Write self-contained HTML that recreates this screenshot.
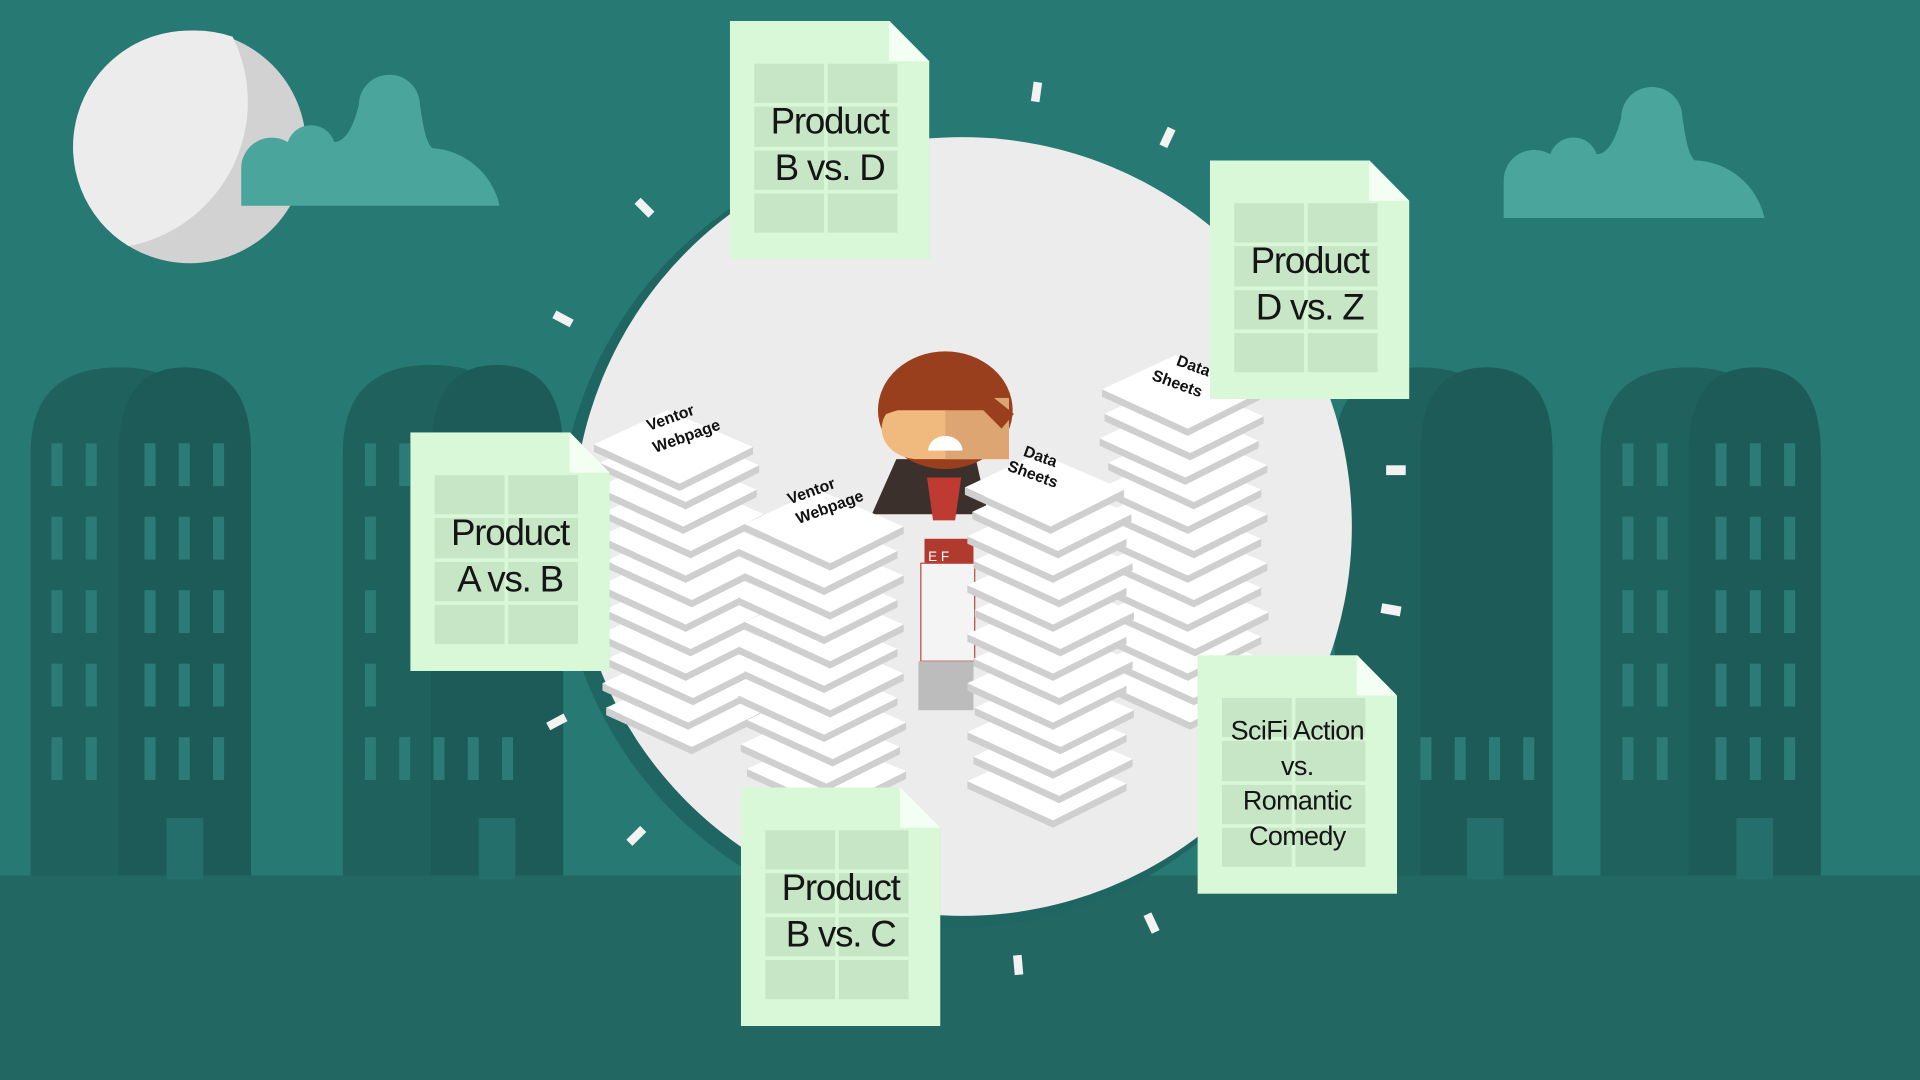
<!DOCTYPE html>
<html><head><meta charset="utf-8"><style>
html,body{margin:0;padding:0;width:1920px;height:1080px;overflow:hidden;background:#267a73}
#w{position:absolute;left:0;top:0;width:1568px;height:882px;transform:scale(1.22449);transform-origin:0 0;font-family:"Liberation Sans",sans-serif}
.doc{position:absolute;width:163px;height:195px;background:#d9f8d8;box-shadow:8px 6px 0 rgba(0,0,0,0.12);clip-path:polygon(0 0,80% 0,100% 17%,100% 100%,0 100%)}
.doc:after{content:"";position:absolute;right:0;top:0;width:33px;height:33px;background:linear-gradient(225deg,transparent 50%,#f3fff3 50%)}
.g{position:absolute;left:20px;top:35px;width:117px;height:138px;display:grid;grid-template-columns:1fr 1fr;grid-template-rows:repeat(4,1fr);gap:3px}
.g i{background:#c6e6c6}
.t{position:absolute;left:0;right:0;text-align:center;color:#151515;font-size:30px;line-height:38px;top:64px;letter-spacing:-1px}
.t.s{font-size:22px;line-height:28.5px;top:48px;letter-spacing:-0.5px}
</style></head><body><div id="w">
<svg width="1568" height="882" style="position:absolute;left:0;top:0">
<rect x="0" y="715" width="1568" height="167" fill="#236763"/>
<g fill="#1f615d">
<path d="M25 715V370Q25 300 97 300Q169 300 169 370V715z"/>
<path d="M280 715V370Q280 298 352 298Q424 298 424 370V715z"/>
<path d="M1090 715V370Q1090 300 1160 300Q1230 300 1230 370V715z"/>
<path d="M1307 715V370Q1307 300 1379 300Q1451 300 1451 370V715z"/>
</g>
<g fill="#1d5b58">
<path d="M97 715V370Q97 300 151 300Q205 300 205 370V715z"/>
<path d="M352 715V370Q352 298 406 298Q460 298 460 370V715z"/>
<path d="M1160 715V370Q1160 300 1214 300Q1268 300 1268 370V715z"/>
<path d="M1379 715V370Q1379 300 1433 300Q1487 300 1487 370V715z"/>
</g>
<g fill="#246f6b">
<rect x="136" y="668" width="30" height="50"/><rect x="391" y="668" width="30" height="50"/><rect x="1198" y="668" width="30" height="50"/><rect x="1418" y="668" width="30" height="50"/>
</g>
<circle cx="155" cy="120" r="95" fill="#d2d2d2"/>
<path d="M155 25a95 95 0 0 0 -50 176a120 120 0 0 0 85 -171a95 95 0 0 0 -35 -5z" fill="#ececec"/>
<g fill="#4aa59d">
<path d="M197 168v-30a25 25 0 0 1 38-22a20 20 0 0 1 38 0c8 0 15 -10 20 -30a25 25 0 0 1 50 0c3 20 5 30 10 35a60 60 0 0 1 55 47z"/>
<path d="M1228 178v-30a25 25 0 0 1 38-22a20 20 0 0 1 38 0c8 0 15 -10 20 -30a25 25 0 0 1 50 0c3 20 5 30 10 35a60 60 0 0 1 57 47z"/>
</g>
<circle cx="778" cy="436" r="322" fill="#1f6662"/>
<circle cx="786" cy="430" r="318" fill="#ececec"/>
<g fill="#f2f2f2">
<rect x="843" y="67" width="7" height="16" transform="rotate(8 846 75)"/>
<rect x="950" y="104" width="7" height="16" transform="rotate(25 953 112)"/>
<rect x="523" y="162" width="7" height="16" transform="rotate(-45 526 170)"/>
<rect x="456" y="252" width="7" height="16" transform="rotate(-62 460 260)"/>
<rect x="1132" y="380" width="16" height="8"/>
<rect x="1128" y="494" width="16" height="8" transform="rotate(10 1136 498)"/>
<rect x="451" y="582" width="7" height="16" transform="rotate(62 455 590)"/>
<rect x="516" y="675" width="7" height="16" transform="rotate(45 520 683)"/>
<rect x="937" y="746" width="7" height="16" transform="rotate(-25 940 754)"/>
<rect x="828" y="780" width="7" height="16" transform="rotate(-5 832 788)"/>
</g>
<g>
<rect x="755" y="440" width="40" height="20" fill="#b03a2e"/>
<rect x="752" y="460" width="44" height="80" fill="#f4f4f4" stroke="#c04a3e" stroke-width="1"/>
<rect x="750" y="540" width="45" height="40" fill="#bcbcbc"/>
<path d="M712 420l20-45h65l10 45z" fill="#3b302c"/>
<path d="M757 390h28l-5 35h-18z" fill="#bf3a30"/>
<ellipse cx="772" cy="335" rx="55" ry="48" fill="#9a3f1d"/>
<rect x="720" y="325" width="104" height="50" rx="30" fill="#f0b97e"/>
<rect x="772" y="325" width="52" height="50" fill="#dda572"/>
<path d="M718 340l5-20 40-12 40 10 25 20-10 12-15-15-70 0z" fill="#9a3f1d"/>
<path d="M758 368a14 12 0 0 1 28 0z" fill="#fff"/>
</g>
<defs>
<g id="sh"><path d="M0 18l60-28 70 30-60 30z" fill="#fff"/><path d="M0 18v6l70 32 60-30v-6l-60 30z" fill="#cfcfcf"/></g>
</defs>
<g>
<use href="#sh" x="495" y="560"/><use href="#sh" x="492" y="540"/><use href="#sh" x="496" y="520"/><use href="#sh" x="490" y="500"/><use href="#sh" x="494" y="480"/><use href="#sh" x="490" y="460"/><use href="#sh" x="495" y="440"/><use href="#sh" x="490" y="420"/><use href="#sh" x="494" y="400"/><use href="#sh" x="488" y="380"/><use href="#sh" x="490" y="360"/><use href="#sh" x="485" y="345"/>
</g>
<g>
<use href="#sh" x="902" y="540"/><use href="#sh" x="905" y="520"/><use href="#sh" x="900" y="500"/><use href="#sh" x="906" y="480"/><use href="#sh" x="900" y="460"/><use href="#sh" x="905" y="440"/><use href="#sh" x="900" y="420"/><use href="#sh" x="905" y="400"/><use href="#sh" x="900" y="380"/><use href="#sh" x="905" y="360"/><use href="#sh" x="898" y="340"/><use href="#sh" x="902" y="320"/><use href="#sh" x="900" y="300"/>
</g>
<g>
<use href="#sh" x="610" y="610"/><use href="#sh" x="605" y="590"/><use href="#sh" x="610" y="570"/><use href="#sh" x="603" y="550"/><use href="#sh" x="608" y="530"/><use href="#sh" x="603" y="510"/><use href="#sh" x="608" y="490"/><use href="#sh" x="603" y="470"/><use href="#sh" x="608" y="450"/><use href="#sh" x="603" y="430"/><use href="#sh" x="608" y="410"/>
</g>
<g>
<use href="#sh" x="790" y="620"/><use href="#sh" x="795" y="600"/><use href="#sh" x="790" y="580"/><use href="#sh" x="796" y="560"/><use href="#sh" x="790" y="540"/><use href="#sh" x="795" y="520"/><use href="#sh" x="790" y="500"/><use href="#sh" x="796" y="480"/><use href="#sh" x="790" y="460"/><use href="#sh" x="795" y="440"/><use href="#sh" x="790" y="420"/><use href="#sh" x="794" y="400"/><use href="#sh" x="788" y="380"/>
</g>
<g font-family="Liberation Sans" font-weight="bold" font-size="13" fill="#111">
<text transform="translate(530 352) rotate(-20)">Ventor</text><text transform="translate(535 370) rotate(-20)">Webpage</text>
<text transform="translate(645 412) rotate(-20)">Ventor</text><text transform="translate(652 428) rotate(-20)">Webpage</text>
<text transform="translate(835 372) rotate(20)">Data</text><text transform="translate(822 384) rotate(20)">Sheets</text>
<text transform="translate(960 298) rotate(20)">Data</text><text transform="translate(940 310) rotate(20)">Sheets</text>
</g>
<text x="758" y="458" font-size="11" fill="#fff" font-family="Liberation Sans">E  F</text>
</svg>
<div class="doc" style="left:596px;top:17px"><div class="g"><i></i><i></i><i></i><i></i><i></i><i></i><i></i><i></i></div><div class="t">Product<br>B vs. D</div></div>
<div class="doc" style="left:988px;top:131px"><div class="g"><i></i><i></i><i></i><i></i><i></i><i></i><i></i><i></i></div><div class="t">Product<br>D vs. Z</div></div>
<div class="doc" style="left:335px;top:353px"><div class="g"><i></i><i></i><i></i><i></i><i></i><i></i><i></i><i></i></div><div class="t">Product<br>A vs. B</div></div>
<div class="doc" style="left:605px;top:643px"><div class="g"><i></i><i></i><i></i><i></i><i></i><i></i><i></i><i></i></div><div class="t">Product<br>B vs. C</div></div>
<div class="doc" style="left:978px;top:535px"><div class="g"><i></i><i></i><i></i><i></i><i></i><i></i><i></i><i></i></div><div class="t s">SciFi Action<br>vs.<br>Romantic<br>Comedy</div></div>
<svg width="1568" height="882" style="position:absolute;left:0;top:0;pointer-events:none">
<g fill="#2b7c76">
<rect x="42" y="362" width="9" height="35"/><rect x="70" y="362" width="9" height="35"/><rect x="118" y="362" width="9" height="35"/><rect x="146" y="362" width="9" height="35"/><rect x="174" y="362" width="9" height="35"/>
<rect x="42" y="422" width="9" height="35"/><rect x="70" y="422" width="9" height="35"/><rect x="118" y="422" width="9" height="35"/><rect x="146" y="422" width="9" height="35"/><rect x="174" y="422" width="9" height="35"/>
<rect x="42" y="482" width="9" height="35"/><rect x="70" y="482" width="9" height="35"/><rect x="118" y="482" width="9" height="35"/><rect x="146" y="482" width="9" height="35"/><rect x="174" y="482" width="9" height="35"/>
<rect x="42" y="542" width="9" height="35"/><rect x="70" y="542" width="9" height="35"/><rect x="118" y="542" width="9" height="35"/><rect x="146" y="542" width="9" height="35"/><rect x="174" y="542" width="9" height="35"/>
<rect x="42" y="602" width="9" height="35"/><rect x="70" y="602" width="9" height="35"/><rect x="118" y="602" width="9" height="35"/><rect x="146" y="602" width="9" height="35"/><rect x="174" y="602" width="9" height="35"/>
<rect x="298" y="362" width="9" height="35"/><rect x="326" y="362" width="9" height="35"/><rect x="298" y="422" width="9" height="35"/><rect x="298" y="482" width="9" height="35"/><rect x="298" y="542" width="9" height="35"/><rect x="298" y="602" width="9" height="35"/><rect x="326" y="602" width="9" height="35"/><rect x="354" y="602" width="9" height="35"/><rect x="382" y="602" width="9" height="35"/><rect x="410" y="602" width="9" height="35"/>
<rect x="1325" y="362" width="9" height="35"/><rect x="1353" y="362" width="9" height="35"/><rect x="1401" y="362" width="9" height="35"/><rect x="1429" y="362" width="9" height="35"/><rect x="1457" y="362" width="9" height="35"/>
<rect x="1325" y="422" width="9" height="35"/><rect x="1353" y="422" width="9" height="35"/><rect x="1401" y="422" width="9" height="35"/><rect x="1429" y="422" width="9" height="35"/><rect x="1457" y="422" width="9" height="35"/>
<rect x="1325" y="482" width="9" height="35"/><rect x="1353" y="482" width="9" height="35"/><rect x="1401" y="482" width="9" height="35"/><rect x="1429" y="482" width="9" height="35"/><rect x="1457" y="482" width="9" height="35"/>
<rect x="1325" y="542" width="9" height="35"/><rect x="1353" y="542" width="9" height="35"/><rect x="1401" y="542" width="9" height="35"/><rect x="1429" y="542" width="9" height="35"/><rect x="1457" y="542" width="9" height="35"/>
<rect x="1325" y="602" width="9" height="35"/><rect x="1353" y="602" width="9" height="35"/><rect x="1401" y="602" width="9" height="35"/><rect x="1429" y="602" width="9" height="35"/><rect x="1457" y="602" width="9" height="35"/>
<rect x="1160" y="602" width="9" height="35"/><rect x="1188" y="602" width="9" height="35"/><rect x="1216" y="602" width="9" height="35"/><rect x="1244" y="602" width="9" height="35"/>
</g>
</svg>
</div></body></html>
